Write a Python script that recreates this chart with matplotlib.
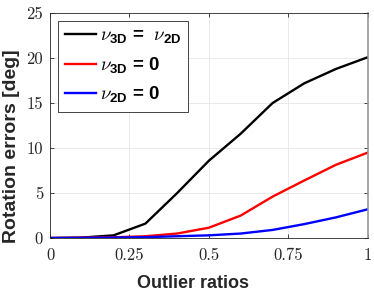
"""Rotation errors vs outlier ratios"""

import matplotlib
matplotlib.use("Agg")
import matplotlib.pyplot as plt

ratios = [0.0, 0.1, 0.2, 0.3, 0.4, 0.5, 0.6, 0.7, 0.8, 0.9, 1.0]
err_equal = [0.0, 0.05, 0.3, 1.6, 5.0, 8.6, 11.6, 15.0, 17.2, 18.8, 20.1]
err_3d_zero = [0.0, 0.03, 0.08, 0.2, 0.5, 1.15, 2.5, 4.6, 6.4, 8.15, 9.5]
err_2d_zero = [0.0, 0.02, 0.05, 0.1, 0.2, 0.3, 0.5, 0.9, 1.55, 2.3, 3.2]

labels = [r"$\nu_{\mathbf{3D}}$ =  $\nu_{\mathbf{2D}}$",
          r"$\nu_{\mathbf{3D}}$ = 0",
          r"$\nu_{\mathbf{2D}}$ = 0"]
colors = ["#000000", "#ff0000", "#0000ff"]

xticks = [0, 0.25, 0.5, 0.75, 1]
xtick_labels = ["0", "0.25", "0.5", "0.75", "1"]
yticks = [0, 5, 10, 15, 20, 25]

plt.rcParams["mathtext.fontset"] = "custom"
plt.rcParams["mathtext.it"] = "cmmi10"
plt.rcParams["mathtext.bf"] = "Liberation Sans:bold"
plt.rcParams["mathtext.rm"] = "Liberation Sans:bold"

fig = plt.figure(figsize=(3.74, 2.91), dpi=100)
ax = fig.add_axes([0.1337, 0.182, 0.850, 0.773])

for ys, c, lab in zip([err_equal, err_3d_zero, err_2d_zero], colors, labels):
    ax.plot(ratios, ys, color=c, linewidth=1.7, label=lab)

ax.set_xlim(0, 1)
ax.set_ylim(0, 25)
ax.set_xticks(xticks)
ax.set_xticklabels(xtick_labels, fontfamily="cmr10", fontsize=12)
ax.set_yticks(yticks)
ax.set_yticklabels([str(v) for v in yticks], fontfamily="cmr10", fontsize=12)
ax.tick_params(direction="in", length=3, width=0.6, colors="#262626",
               top=True, right=True)
ax.tick_params(axis="x", pad=7)
ax.tick_params(axis="y", pad=5)

ax.grid(True, color="#e6e6e6", linewidth=0.6)
ax.set_axisbelow(True)
for s in ax.spines.values():
    s.set_color("#262626")
    s.set_linewidth(0.6)
ax.spines["right"].set_color("#999999")
ax.spines["right"].set_linewidth(1.2)

ax.set_xlabel("Outlier ratios", fontfamily="Liberation Sans", fontweight="bold",
              fontsize=13, color="#262626")
ax.set_ylabel("Rotation errors [deg]", fontfamily="Liberation Sans", fontweight="bold",
              fontsize=14, color="#262626")
ax.xaxis.set_label_coords(0.451, -0.165)
ax.yaxis.set_label_coords(-0.095, 0.407)

leg = ax.legend(loc="upper left", bbox_to_anchor=(0.025, 0.964), fancybox=False,
                prop={"family": "Liberation Sans", "weight": "bold", "size": 13.5},
                handlelength=1.7, handletextpad=0.2, labelspacing=0.5,
                borderpad=0.35, borderaxespad=0, framealpha=1)
leg.get_frame().set_edgecolor("#262626")
leg.get_frame().set_linewidth(0.6)

fig.savefig("out.png", dpi=100)
plt.close(fig)
